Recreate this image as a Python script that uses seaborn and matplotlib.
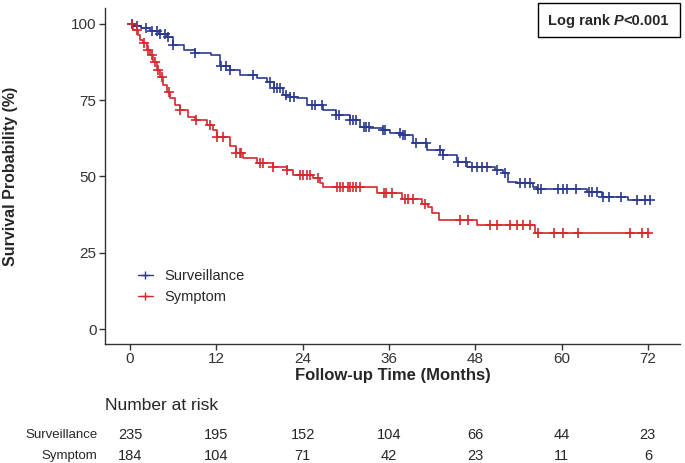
import numpy as np
import pandas as pd
import matplotlib
matplotlib.use('Agg')
import matplotlib.pyplot as plt
import matplotlib.transforms as mtransforms
from matplotlib.lines import Line2D
import seaborn as sns

# Kaplan-Meier steps (months, survival %)
surv_time = [0, 0.5, 1.5, 2.8, 4.0, 5.1, 6.0, 7.5, 9.0, 11.3, 12.5, 13.9, 15.3, 17.7,
             19.0, 20.0, 21.3, 22.3, 23.2, 24.6, 26.8, 28.7, 30.6, 32.0, 33.4, 35.2,
             36.2, 38.0, 39.4, 41.3, 43.5, 45.5, 46.9, 50.8, 51.9, 52.6, 53.8, 56.1,
             56.6, 63.5, 65.6, 69.2, 72.3]
surv_prob = [100, 99.2, 98.7, 97.6, 96.7, 95.8, 93.0, 91.5, 90.5, 89.8, 86.0, 85.0, 83.3,
             82.2, 81.0, 79.0, 76.7, 76.0, 75.6, 73.4, 71.8, 70.2, 68.5, 66.3, 65.8,
             65.2, 64.3, 63.6, 61.0, 58.7, 57.0, 54.8, 53.2, 52.1, 51.0, 48.3, 47.7,
             46.6, 46.0, 45.0, 43.3, 42.3, 42.3]
surv_cens = [0.3, 1.0, 2.2, 3.0, 3.8, 4.2, 4.9, 5.3, 6.0, 9.0, 12.7, 13.4, 13.9, 17.1,
             19.5, 20.0, 20.5, 20.9, 21.7, 22.3, 22.8, 25.3, 25.7, 26.7, 28.7, 29.0,
             30.6, 31.0, 31.4, 32.5, 32.8, 33.2, 35.2, 35.4, 37.6, 38.0, 38.2, 39.8,
             41.2, 43.1, 43.5, 45.6, 46.7, 47.6, 48.3, 49.0, 49.7, 51.0, 52.2, 54.2,
             54.9, 55.6, 56.7, 57.2, 59.5, 60.2, 60.8, 62.0, 63.8, 64.3, 64.9, 65.8,
             66.6, 68.2, 70.5, 71.6, 72.3]

symp_time = [0, 0.4, 1.1, 1.4, 1.8, 2.3, 2.8, 3.2, 3.7, 4.2, 4.6, 5.1, 5.6, 6.3, 7.0,
             8.1, 9.0, 10.7, 11.5, 12.1, 13.9, 14.8, 15.7, 17.6, 19.9, 21.8, 22.7,
             25.5, 26.4, 26.8, 34.3, 37.8, 40.6, 41.4, 42.0, 43.0, 48.2, 56.3, 72.2]
symp_prob = [100, 98.0, 96.4, 94.8, 93.7, 91.5, 89.8, 87.6, 84.9, 82.7, 80.0, 77.8, 75.6,
             73.4, 71.8, 69.6, 68.5, 66.9, 65.2, 63.0, 59.8, 57.6, 56.0, 54.3, 53.2,
             52.1, 50.5, 49.4, 47.7, 46.6, 44.4, 42.7, 41.1, 40.0, 38.0, 35.7, 34.1,
             31.5, 31.5]
symp_cens = [0.3, 1.0, 1.9, 2.5, 3.0, 3.5, 3.9, 4.5, 5.4, 7.0, 9.2, 11.1, 12.1, 13.0,
             14.8, 15.3, 15.5, 18.1, 18.5, 19.9, 21.8, 23.6, 24.0, 24.6, 25.0, 26.1,
             28.8, 29.2, 29.6, 30.3, 30.6, 31.0, 31.4, 32.0, 35.3, 35.6, 36.4, 38.2,
             38.7, 39.4, 41.0, 45.9, 47.0, 50.0, 51.0, 52.8, 53.8, 54.7, 55.6, 56.7,
             59.0, 60.2, 62.3, 69.5, 71.2, 72.0]

groups = ['Surveillance', 'Symptom']
risk_times = [0, 12, 24, 36, 48, 60, 72]
risk_surv = [235, 195, 152, 104, 66, 44, 23]
risk_symp = [184, 104, 71, 42, 23, 11, 6]

colors = {'Surveillance': '#2b3990', 'Symptom': '#d7282f'}

sns.set_style('ticks')
plt.rcParams['font.family'] = ['Liberation Sans', 'DejaVu Sans']

km = pd.concat([
    pd.DataFrame({'time': surv_time, 'prob': surv_prob, 'group': groups[0]}),
    pd.DataFrame({'time': symp_time, 'prob': symp_prob, 'group': groups[1]}),
])


def step_value(times, probs, t):
    i = np.searchsorted(times, t, side='right') - 1
    return np.array(probs)[i]


fig = plt.figure(figsize=(6.85, 4.63), dpi=100)
ax = fig.add_axes([0.153, 0.257, 0.840, 0.726])

sns.lineplot(data=km, x='time', y='prob', hue='group', palette=colors,
             drawstyle='steps-post', estimator=None, sort=False,
             linewidth=1.2, legend=False, ax=ax)

for g, t, p, c in [(groups[0], surv_time, surv_prob, surv_cens),
                   (groups[1], symp_time, symp_prob, symp_cens)]:
    cy = step_value(t, p, np.array(c))
    ax.plot(c, cy, linestyle='none', marker='+', markersize=7,
            markeredgewidth=1.2, color=colors[g])

ax.set_xlim(-3.5, 76.5)
ax.set_ylim(-4.9, 105.2)
ax.set_xticks(risk_times)
ax.set_yticks([0, 25, 50, 75, 100])
ax.tick_params(labelsize=11, length=4, width=1, pad=2, color='#333333',
               labelcolor='#333333')
ax.spines['top'].set_visible(False)
ax.spines['right'].set_visible(False)
for s in ['left', 'bottom']:
    ax.spines[s].set_linewidth(1.0)
    ax.spines[s].set_color('#333333')
ax.set_xlabel('Follow-up Time (Months)', fontsize=12, fontweight='bold', labelpad=1)
ax.set_ylabel('Survival Probability (%)', fontsize=11.5, fontweight='bold', labelpad=38)

handles = [Line2D([], [], color=colors[g], marker='+', markersize=6, linewidth=1.0)
           for g in groups]
ax.legend(handles, groups, loc='lower left', bbox_to_anchor=(0.035, 0.08),
          frameon=False, fontsize=10.5, handlelength=1.0, handletextpad=0.8,
          labelspacing=0.45)

# log rank box
t1 = fig.text(0.800, 0.955, 'Log rank ', fontsize=10.5, fontweight='bold',
              va='center', ha='left')
t2 = ax.annotate('P', xycoords=t1, xy=(1, 0), va='bottom', ha='left',
                 fontsize=10.5, fontweight='bold', style='italic',
                 annotation_clip=False)
ax.annotate('<0.001', xycoords=t2, xy=(1, 0), va='bottom', ha='left',
            fontsize=10.5, fontweight='bold', annotation_clip=False)
fig.patches.append(plt.Rectangle((0.785, 0.921), 0.208, 0.072, transform=fig.transFigure,
                                 fill=False, edgecolor='black', linewidth=1.0))

# number at risk table
trans = mtransforms.blended_transform_factory(ax.transData, fig.transFigure)
narrow = ['Liberation Sans Narrow', 'Liberation Sans', 'DejaVu Sans']
fig.text(0.153, 0.125, 'Number at risk', fontsize=12.5, family=narrow, va='center')
for row_y, name, vals in [(0.060, groups[0], risk_surv), (0.015, groups[1], risk_symp)]:
    fig.text(0.142, row_y, name, fontsize=9.5, family=narrow, ha='right', va='center')
    for t, v in zip(risk_times, vals):
        ax.text(t, row_y, str(v), transform=trans, fontsize=10.5, family=narrow,
                ha='center', va='center')

fig.savefig('out.png', dpi=100)
